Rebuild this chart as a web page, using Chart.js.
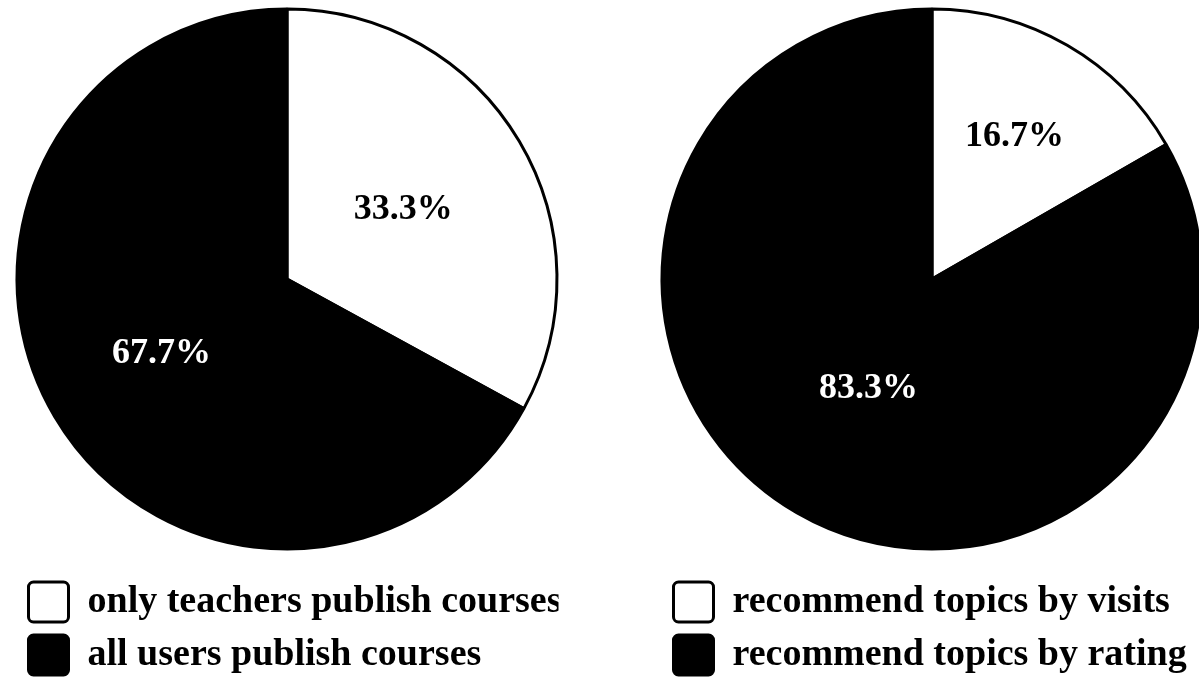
<!DOCTYPE html>
<html>
<head>
<meta charset="utf-8">
<script src="https://cdn.jsdelivr.net/npm/chart.js@4.4.0/dist/chart.umd.min.js"></script>
<style>
  html, body { margin: 0; padding: 0; background: #fff; overflow: hidden; width: 1199px; height: 679px; }
  .box { position: absolute; top: -11px; width: 574px; height: 696px; }
</style>
</head>
<body>
<div class="box" style="left:0"><canvas id="leftChart"></canvas></div>
<div class="box" style="left:645px"><canvas id="rightChart"></canvas></div>
<script>
const leftLabels = ['only teachers publish courses', 'all users publish courses'];
const leftValues = [33.3, 67.7];
const rightLabels = ['recommend topics by visits', 'recommend topics by rating'];
const rightValues = [16.7, 83.3];
const sliceColors = ['#ffffff', '#000000'];
const textColors = ['#000000', '#ffffff'];

const serif = '"Liberation Serif", "Times New Roman", serif';

// percentage text inside each slice
const sliceText = {
  id: 'sliceText',
  afterDatasetsDraw(chart, args, opts) {
    const ctx = chart.ctx;
    const arcs = chart.getDatasetMeta(0).data;
    const values = chart.data.datasets[0].data;
    ctx.save();
    ctx.font = 'bold 36px ' + serif;
    ctx.textAlign = 'center';
    ctx.textBaseline = 'middle';
    arcs.forEach((arc, i) => {
      const p = arc.getProps(['x', 'y', 'startAngle', 'endAngle', 'outerRadius'], true);
      const mid = (p.startAngle + p.endAngle) / 2;
      const r = p.outerRadius * opts.radius[i];
      ctx.fillStyle = textColors[i];
      ctx.fillText(values[i].toFixed(1) + '%', p.x + Math.cos(mid) * r, p.y + Math.sin(mid) * r);
    });
    ctx.restore();
  }
};

function makePie(id, labels, values, textRadius) {
  return new Chart(document.getElementById(id), {
    type: 'pie',
    data: {
      labels: labels,
      datasets: [{
        data: values,
        backgroundColor: sliceColors,
        borderColor: '#000000',
        borderWidth: 3
      }]
    },
    options: {
      responsive: true,
      maintainAspectRatio: false,
      animation: false,
      layout: { padding: { left: 15.5, right: 15.5, top: 0, bottom: 0 } },
      plugins: {
        tooltip: { enabled: false },
        sliceText: { radius: textRadius },
        legend: {
          position: 'bottom',
          align: 'start',
          labels: {
            boxWidth: 40,
            boxHeight: 40,
            padding: 13,
            color: '#000',
            font: { family: serif, size: 38, weight: 'bold' },
            generateLabels: chart => chart.data.labels.map((text, i) => ({
              text: text,
              fillStyle: sliceColors[i],
              strokeStyle: '#000000',
              lineWidth: 3,
              borderRadius: 5,
              fontColor: '#000000',
              hidden: false,
              index: i
            }))
          }
        }
      }
    },
    plugins: [sliceText]
  });
}

makePie('leftChart', leftLabels, leftValues, [0.5, 0.54]);
makePie('rightChart', rightLabels, rightValues, [0.61, 0.47]);
</script>
</body>
</html>
